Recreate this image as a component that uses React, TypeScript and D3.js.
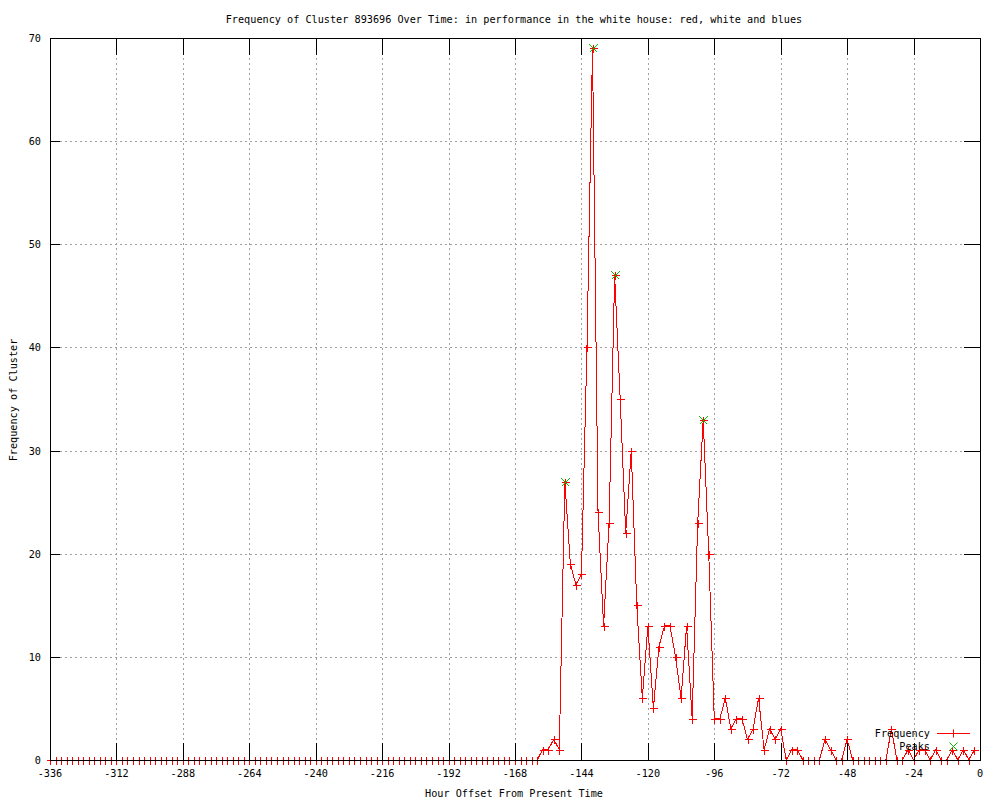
import React from 'react';
import * as d3 from 'd3';

// one sample every 2 hours, -336 .. -2
const hours = d3.range(-336, 0, 2);
const frequency = [
  0, 0, 0, 0, 0, 0, 0, 0, 0, 0, 0, 0, 0, 0, 0, 0, 0, 0, 0, 0,
  0, 0, 0, 0, 0, 0, 0, 0, 0, 0, 0, 0, 0, 0, 0, 0, 0, 0, 0, 0,
  0, 0, 0, 0, 0, 0, 0, 0, 0, 0, 0, 0, 0, 0, 0, 0, 0, 0, 0, 0,
  0, 0, 0, 0, 0, 0, 0, 0, 0, 0, 0, 0, 0, 0, 0, 0, 0, 0, 0, 0,
  0, 0, 0, 0, 0, 0, 0, 0, 0,
  1, 1, 2, 1, 27, 19, 17, 18, 40, 69,
  24, 13, 23, 47, 35, 22, 30, 15, 6, 13,
  5, 11, 13, 13, 10, 6, 13, 4, 23, 33,
  20, 4, 4, 6, 3, 4, 4, 2, 3, 6,
  1, 3, 2, 3, 0, 1, 1, 0, 0, 0,
  0, 2, 1, 0, 0, 2, 0, 0, 0, 0,
  0, 0, 0, 3, 0, 0, 1, 0, 1, 1,
  0, 1, 0, 0, 1, 0, 1, 0, 1,
];
const peakHours = [-150, -140, -132, -100];
const peakValues = [27, 69, 47, 33];
const xTicks = [-336, -312, -288, -264, -240, -216, -192, -168, -144, -120, -96, -72, -48, -24, 0];
const yTicks = [0, 10, 20, 30, 40, 50, 60, 70];

const TITLE = 'Frequency of Cluster 893696 Over Time: in performance in the white house: red, white and blues';
const RED = '#ff0000';
const GREEN = '#00c000';
const GRID = '#a0a0a0';
const FONT = 'DejaVu Sans Mono, Liberation Mono, monospace';

const L = 50, R = 980, T = 38, B = 760;

function Plus({ x, y, color }: { x: number; y: number; color: string }) {
  const cx = Math.round(x) + 0.5, cy = Math.round(y) + 0.5;
  return <path d={`M${cx - 4},${cy}H${cx + 4}M${cx},${cy - 4}V${cy + 4}`} stroke={color} strokeWidth={1} fill="none" />;
}

function Cross({ x, y, color }: { x: number; y: number; color: string }) {
  const cx = Math.round(x) + 0.5, cy = Math.round(y) + 0.5;
  return <path d={`M${cx - 4},${cy - 4}L${cx + 4},${cy + 4}M${cx - 4},${cy + 4}L${cx + 4},${cy - 4}`} stroke={color} strokeWidth={1} fill="none" />;
}

export default function App() {
  const x = d3.scaleLinear().domain([-336, 0]).range([L, R]);
  const y = d3.scaleLinear().domain([0, 70]).range([B, T]);
  const px = (v: number) => Math.round(x(v)) + 0.5;
  const py = (v: number) => Math.round(y(v)) + 0.5;
  const line = d3.line<number>().x((d, i) => x(hours[i])).y(d => y(d));

  return (
    <svg width={1000} height={800} style={{ position: 'absolute', left: 0, top: 0, background: '#fff' }} fontFamily={FONT} fontSize={10.2}>
      <rect width={1000} height={800} fill="#fff" />
      {/* grid */}
      <g stroke={GRID} strokeDasharray="2,3" shapeRendering="crispEdges">
        {xTicks.slice(1, -1).map(t => <line key={'gx' + t} x1={px(t)} x2={px(t)} y1={T} y2={B} />)}
        {yTicks.slice(1, -1).map(t => <line key={'gy' + t} x1={L} x2={R} y1={py(t)} y2={py(t)} />)}
      </g>
      {/* frequency series */}
      <path d={line(frequency) || ''} fill="none" stroke={RED} strokeWidth={1} shapeRendering="crispEdges" />
      <g shapeRendering="crispEdges">
        {frequency.map((v, i) => <Plus key={'p' + i} x={x(hours[i])} y={y(v)} color={RED} />)}
      </g>
      {/* peaks */}
      <g shapeRendering="crispEdges">
        {peakHours.map((h, i) => <Cross key={'k' + h} x={x(h)} y={y(peakValues[i])} color={GREEN} />)}
      </g>
      {/* border + ticks */}
      <g stroke="#000" fill="none" shapeRendering="crispEdges">
        <rect x={L + 0.5} y={T + 0.5} width={R - L} height={B - T} />
        {xTicks.map(t => (
          <g key={'tx' + t}>
            <line x1={px(t)} x2={px(t)} y1={B} y2={B - 17} />
            <line x1={px(t)} x2={px(t)} y1={T} y2={T + 17} />
          </g>
        ))}
        {yTicks.map(t => (
          <g key={'ty' + t}>
            <line x1={L} x2={L + 10} y1={py(t)} y2={py(t)} />
            <line x1={R} x2={R - 16} y1={py(t)} y2={py(t)} />
          </g>
        ))}
      </g>
      {/* tick labels */}
      <g fill="#000">
        {xTicks.map(t => (
          <text key={'lx' + t} x={x(t)} y={777} textAnchor="middle">{t}</text>
        ))}
        {yTicks.map(t => (
          <text key={'ly' + t} x={41} y={y(t) + 4} textAnchor="end">{t}</text>
        ))}
        <text x={514} y={23} textAnchor="middle">{TITLE}</text>
        <text x={514} y={797} textAnchor="middle">Hour Offset From Present Time</text>
        <text transform="translate(17,400) rotate(-90)" textAnchor="middle">Frequency of Cluster</text>
      </g>
      {/* legend */}
      <g>
        <text x={930} y={737} textAnchor="end">Frequency</text>
        <line x1={937} x2={970} y1={733.5} y2={733.5} stroke={RED} shapeRendering="crispEdges" />
        <Plus x={953} y={733} color={RED} />
        <text x={930} y={750} textAnchor="end">Peaks</text>
        <Cross x={953} y={746} color={GREEN} />
      </g>
    </svg>
  );
}
